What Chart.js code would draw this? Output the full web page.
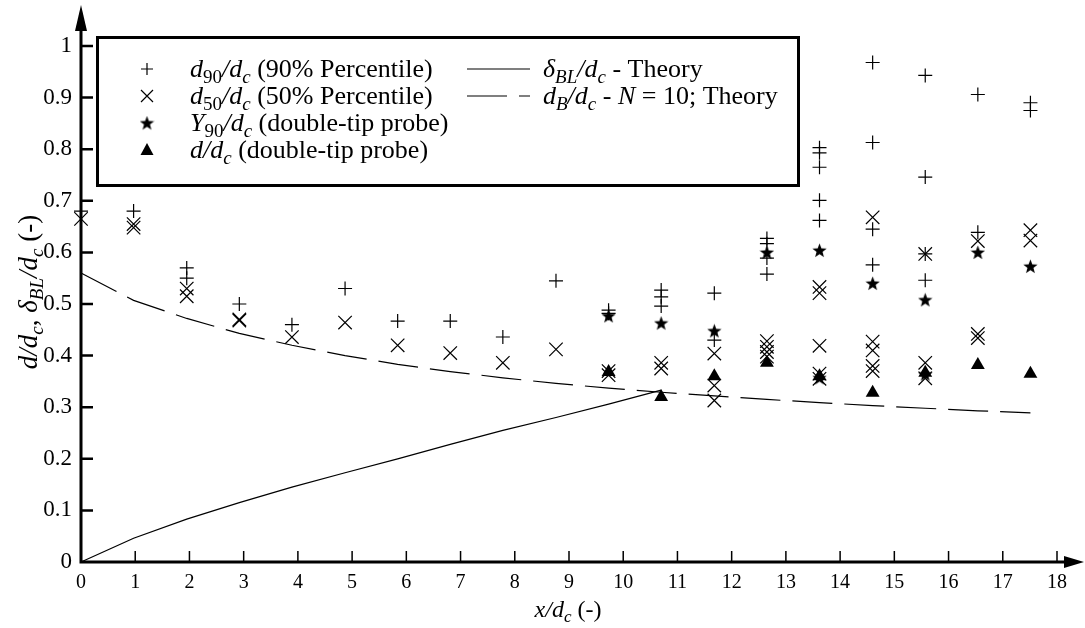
<!DOCTYPE html>
<html>
<head>
<meta charset="utf-8">
<script src="https://cdn.jsdelivr.net/npm/chart.js@4.4.1/dist/chart.umd.min.js"></script>
<style>
html,body{margin:0;padding:0;background:#fff;}
#wrap{width:1085px;height:628px;}
</style>
</head>
<body>
<div id="wrap"><canvas id="chart" width="1085" height="628"></canvas></div>
<script>
// x/dc of the measuring sections
const xPos = [0, 0.97, 1.95, 2.92, 3.89, 4.87, 5.84, 6.81, 7.78, 8.76, 9.73, 10.7, 11.68, 12.65, 13.62, 14.6, 15.57, 16.54, 17.51];

// measured values, one list per section (same order as xPos)
const d90 = [[0.68], [0.68], [0.57, 0.55], [0.50], [0.46], [0.53], [0.467], [0.467], [0.436], [0.545],
  [0.488, 0.482], [0.527, 0.514, 0.496], [0.521, 0.43], [0.627, 0.617, 0.589, 0.558],
  [0.803, 0.793, 0.765, 0.701, 0.662], [0.968, 0.813, 0.645, 0.576], [0.943, 0.746, 0.597, 0.546],
  [0.906, 0.639], [0.89, 0.875]];
const d50 = [[0.665], [0.655, 0.648], [0.53, 0.515], [0.47, 0.468], [0.436], [0.464], [0.42], [0.405], [0.386], [0.412],
  [0.37, 0.362], [0.386, 0.375], [0.404, 0.342, 0.313], [0.428, 0.417, 0.407, 0.398],
  [0.533, 0.521, 0.419, 0.365, 0.355], [0.668, 0.427, 0.41, 0.38, 0.37], [0.597, 0.386, 0.356],
  [0.622, 0.442, 0.434], [0.643, 0.623]];
const y90 = [[], [], [], [], [], [], [], [], [], [],
  [0.477], [0.463], [0.448], [0.600], [0.604, 0.357], [0.540], [0.508, 0.364], [0.600], [0.573]];
const dProbe = [[], [], [], [], [], [], [], [], [], [],
  [0.368], [0.32], [0.36], [0.386], [0.36], [0.328], [0.367], [0.382], [0.365]];

// theory curves at the same sections
const deltaBL = [0, 0.046, 0.083, 0.115, 0.145, 0.173, 0.2, 0.228, 0.255, 0.28, 0.306, 0.333];
const dBTheory = [0.56, 0.507, 0.472, 0.443, 0.42, 0.4, 0.383, 0.369, 0.357, 0.346, 0.337, 0.329,
  0.322, 0.315, 0.309, 0.303, 0.298, 0.293, 0.289];

const xTicks = [0, 1, 2, 3, 4, 5, 6, 7, 8, 9, 10, 11, 12, 13, 14, 15, 16, 17, 18];
const yTicks = [0, 0.1, 0.2, 0.3, 0.4, 0.5, 0.6, 0.7, 0.8, 0.9, 1];

const FONT = '"Liberation Serif", "Times New Roman", serif';

function toPoints(cols) {
  const out = [];
  cols.forEach((vals, i) => vals.forEach(v => out.push({x: xPos[i], y: v})));
  return out;
}
function toLine(vals) {
  return vals.map((v, i) => ({x: xPos[i], y: v}));
}

// filled 5 point star used as point style
function makeStar(size) {
  const c = document.createElement('canvas');
  c.width = c.height = size;
  const g = c.getContext('2d');
  const cx = size / 2, cy = size / 2 + 0.6, R = size / 2, r = R * 0.42;
  g.fillStyle = '#000';
  g.beginPath();
  for (let i = 0; i < 10; i++) {
    const a = -Math.PI / 2 + i * Math.PI / 5;
    const rr = i % 2 ? r : R;
    g.lineTo(cx + rr * Math.cos(a), cy + rr * Math.sin(a));
  }
  g.closePath();
  g.fill();
  return c;
}
const starImg = makeStar(15);

// draws text pieces: 'r' roman, 'i' italic, 's' = subscript
function richText(ctx, x, y, parts, size, measureOnly) {
  let w = 0;
  parts.forEach(([t, s]) => {
    const italic = s.includes('i');
    const sub = s.includes('s');
    const fs = sub ? Math.round(size * 0.72) : size;
    ctx.font = (italic ? 'italic ' : '') + fs + 'px ' + FONT;
    if (!measureOnly) ctx.fillText(t, x + w, sub ? y + size * 0.22 : y);
    w += ctx.measureText(t).width;
  });
  return w;
}

const legendLeft = [
  ['plus', [['d', 'i'], ['90', 'rs'], ['/', 'i'], ['d', 'i'], ['c', 'is'], [' (90% Percentile)', 'r']]],
  ['cross', [['d', 'i'], ['50', 'rs'], ['/', 'i'], ['d', 'i'], ['c', 'is'], [' (50% Percentile)', 'r']]],
  ['star', [['Y', 'i'], ['90', 'rs'], ['/', 'i'], ['d', 'i'], ['c', 'is'], [' (double-tip probe)', 'r']]],
  ['tri', [['d', 'i'], ['/', 'i'], ['d', 'i'], ['c', 'is'], [' (double-tip probe)', 'r']]]
];
const legendRight = [
  [[], [['\u03B4', 'i'], ['BL', 'is'], ['/', 'i'], ['d', 'i'], ['c', 'is'], [' - Theory', 'r']]],
  [[40, 12], [['d', 'i'], ['B', 'is'], ['/', 'i'], ['d', 'i'], ['c', 'is'], [' - ', 'r'], ['N', 'i'], [' = 10; Theory', 'r']]]
];

function drawSymbol(ctx, kind, x, y) {
  ctx.save();
  ctx.strokeStyle = '#000';
  ctx.fillStyle = '#000';
  ctx.lineWidth = 1.2;
  ctx.beginPath();
  if (kind === 'plus') {
    ctx.moveTo(x - 6, y); ctx.lineTo(x + 6, y);
    ctx.moveTo(x, y - 6); ctx.lineTo(x, y + 6);
    ctx.stroke();
  } else if (kind === 'cross') {
    ctx.moveTo(x - 6, y - 6); ctx.lineTo(x + 6, y + 6);
    ctx.moveTo(x + 6, y - 6); ctx.lineTo(x - 6, y + 6);
    ctx.stroke();
  } else if (kind === 'star') {
    ctx.drawImage(starImg, x - starImg.width / 2, y - starImg.height / 2);
  } else {
    ctx.moveTo(x, y - 7); ctx.lineTo(x + 6.5, y + 5); ctx.lineTo(x - 6.5, y + 5);
    ctx.closePath();
    ctx.fill();
  }
  ctx.restore();
}

const decorations = {
  id: 'decorations',
  afterDraw(chart) {
    const ctx = chart.ctx;
    const xs = chart.scales.x, ys = chart.scales.y;
    const x0 = xs.getPixelForValue(0), y0 = ys.getPixelForValue(0);
    ctx.save();
    ctx.strokeStyle = '#000';
    ctx.fillStyle = '#000';

    // axes with arrows
    ctx.lineWidth = 3;
    ctx.beginPath();
    ctx.moveTo(x0, y0 + 1.5); ctx.lineTo(x0, 28);
    ctx.moveTo(x0 - 1.5, y0); ctx.lineTo(1068, y0);
    ctx.stroke();
    ctx.beginPath();
    ctx.moveTo(x0, 5); ctx.lineTo(x0 + 6, 31); ctx.lineTo(x0 - 6, 31); ctx.closePath();
    ctx.fill();
    ctx.beginPath();
    ctx.moveTo(1084, y0); ctx.lineTo(1064, y0 - 6); ctx.lineTo(1064, y0 + 6); ctx.closePath();
    ctx.fill();

    // inward tick marks
    ctx.lineWidth = 2.5;
    ctx.beginPath();
    yTicks.slice(1).forEach(v => {
      const p = ys.getPixelForValue(v);
      ctx.moveTo(x0, p); ctx.lineTo(x0 + 12, p);
    });
    ctx.stroke();
    ctx.lineWidth = 1.5;
    ctx.beginPath();
    xTicks.slice(1).forEach(v => {
      const p = xs.getPixelForValue(v);
      ctx.moveTo(p, y0); ctx.lineTo(p, y0 - 11);
    });
    ctx.stroke();

    // axis titles
    ctx.textBaseline = 'alphabetic';
    const xt = [['x', 'i'], ['/', 'i'], ['d', 'i'], ['c', 'is'], [' (-)', 'r']];
    const xw = richText(ctx, 0, 0, xt, 24, true);
    richText(ctx, 568 - xw / 2, 617, xt, 24);
    const yt = [['d', 'i'], ['/', 'i'], ['d', 'i'], ['c', 'is'], [', ', 'r'], ['\u03B4', 'i'], ['BL', 'is'], ['/', 'i'], ['d', 'i'], ['c', 'is'], [' (-)', 'r']];
    const yw = richText(ctx, 0, 0, yt, 27, true);
    ctx.save();
    ctx.translate(37, 292);
    ctx.rotate(-Math.PI / 2);
    richText(ctx, -yw / 2, 0, yt, 27);
    ctx.restore();

    // legend box
    ctx.fillStyle = '#fff';
    ctx.fillRect(97, 37, 702, 149);
    ctx.fillStyle = '#000';
    ctx.lineWidth = 3;
    ctx.strokeRect(97.5, 37.5, 701, 148);
    const rows = [69, 96, 123, 150];
    legendLeft.forEach(([kind, parts], i) => {
      drawSymbol(ctx, kind, 147, rows[i]);
      ctx.fillStyle = '#000';
      richText(ctx, 190, rows[i] + 8, parts, 26);
    });
    legendRight.forEach(([dash, parts], i) => {
      ctx.save();
      ctx.lineWidth = 1.2;
      ctx.setLineDash(dash);
      ctx.beginPath();
      ctx.moveTo(467, rows[i]); ctx.lineTo(530, rows[i]);
      ctx.stroke();
      ctx.restore();
      richText(ctx, 543, rows[i] + 8, parts, 26);
    });
    ctx.restore();
  }
};

new Chart(document.getElementById('chart'), {
  type: 'scatter',
  data: {
    datasets: [
      {data: toLine(deltaBL), showLine: true, pointRadius: 0, borderColor: '#000', borderWidth: 1.2, clip: false},
      {data: toLine(dBTheory), showLine: true, pointRadius: 0, borderColor: '#000', borderWidth: 1.2, borderDash: [40, 12], clip: false},
      {data: toPoints(d90), pointStyle: 'cross', pointRadius: 7, borderColor: '#000', borderWidth: 1.2, clip: false},
      {data: toPoints(d50), pointStyle: 'crossRot', pointRadius: 9.5, borderColor: '#000', borderWidth: 1.2, clip: false},
      {data: toPoints(y90), pointStyle: starImg, pointRadius: 7, clip: false},
      {data: toPoints(dProbe), pointStyle: 'triangle', pointRadius: 8, backgroundColor: '#000', borderColor: '#000', borderWidth: 0, clip: false}
    ]
  },
  options: {
    responsive: false,
    animation: false,
    devicePixelRatio: 1,
    layout: {padding: {top: 46, right: 28, left: 0, bottom: 0}},
    plugins: {legend: {display: false}, tooltip: {enabled: false}},
    scales: {
      x: {
        type: 'linear', min: 0, max: 18,
        grid: {display: false, drawTicks: false},
        border: {display: false},
        afterFit(scale) { scale.height = 66; },
        afterBuildTicks(scale) { scale.ticks = xTicks.map(v => ({value: v})); },
        ticks: {color: '#000', padding: 9, font: {family: FONT, size: 20}, maxRotation: 0, autoSkip: false,
          callback: v => String(v)}
      },
      y: {
        type: 'linear', min: 0, max: 1,
        grid: {display: false, drawTicks: false},
        border: {display: false},
        afterFit(scale) { scale.width = 81; },
        afterBuildTicks(scale) { scale.ticks = yTicks.map(v => ({value: v})); },
        ticks: {color: '#000', padding: 9, font: {family: FONT, size: 23}, autoSkip: false,
          callback: v => String(+v.toFixed(1))}
      }
    }
  },
  plugins: [decorations]
});
</script>
</body>
</html>
